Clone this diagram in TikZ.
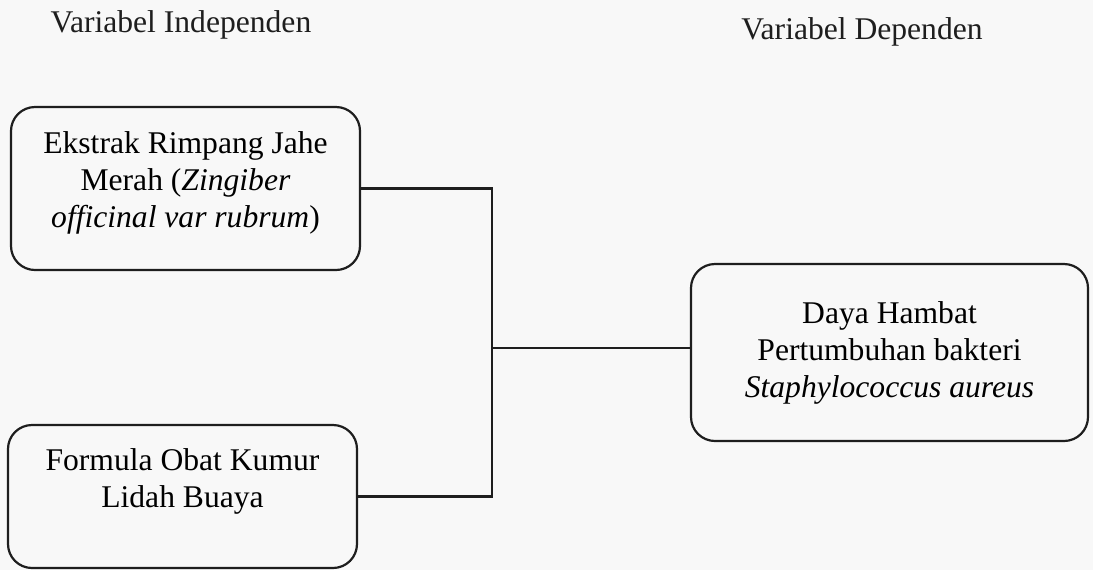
\documentclass[tikz,border=0pt]{standalone}
\usepackage{fontspec}
\setmainfont{Liberation Serif}
\definecolor{ink}{HTML}{1E1E1E}
\definecolor{paper}{HTML}{F8F8F8}
\begin{document}
\begin{tikzpicture}[x=0.5pt,y=-0.5pt,
  box/.style={draw=ink, line width=1.1pt, rounded corners=12pt, align=center,
    font=\fontsize{15.8}{18.5}\selectfont, inner sep=0pt},
  head/.style={font=\fontsize{15.8}{18.5}\selectfont, text=ink, inner sep=0pt},
  conn/.style={draw=ink, line width=1.1pt}]
\fill[paper] (0,0) rectangle (1093,570);
\useasboundingbox (0,0) rectangle (1093,570);
\node[head] (li) at (181,25) {Variabel Independen};
\node[head] (ld) at (862,32) {Variabel Dependen};
\node[box, minimum width=174.5pt, minimum height=81.5pt] (top) at (185.5,188.5)
  {Ekstrak Rimpang Jahe\\Merah (\textit{Zingiber}\\\textit{officinal var rubrum})\\[-0.6em]\mbox{}};
\node[box, minimum width=174.5pt, minimum height=71.5pt] (bot) at (182.5,496.5)
  {Formula Obat Kumur\\Lidah Buaya\\\mbox{}};
\node[box, minimum width=198.5pt, minimum height=88.5pt] (dep) at (889.5,352.5)
  {Daya Hambat\\Pertumbuhan bakteri\\\textit{Staphylococcus aureus}};
\coordinate (j) at (492,348);
\draw[conn] (top.east) -| (j);
\draw[conn] (bot.east) -| (j);
\draw[conn] (j) -- (j -| dep.west);
\end{tikzpicture}
\end{document}
